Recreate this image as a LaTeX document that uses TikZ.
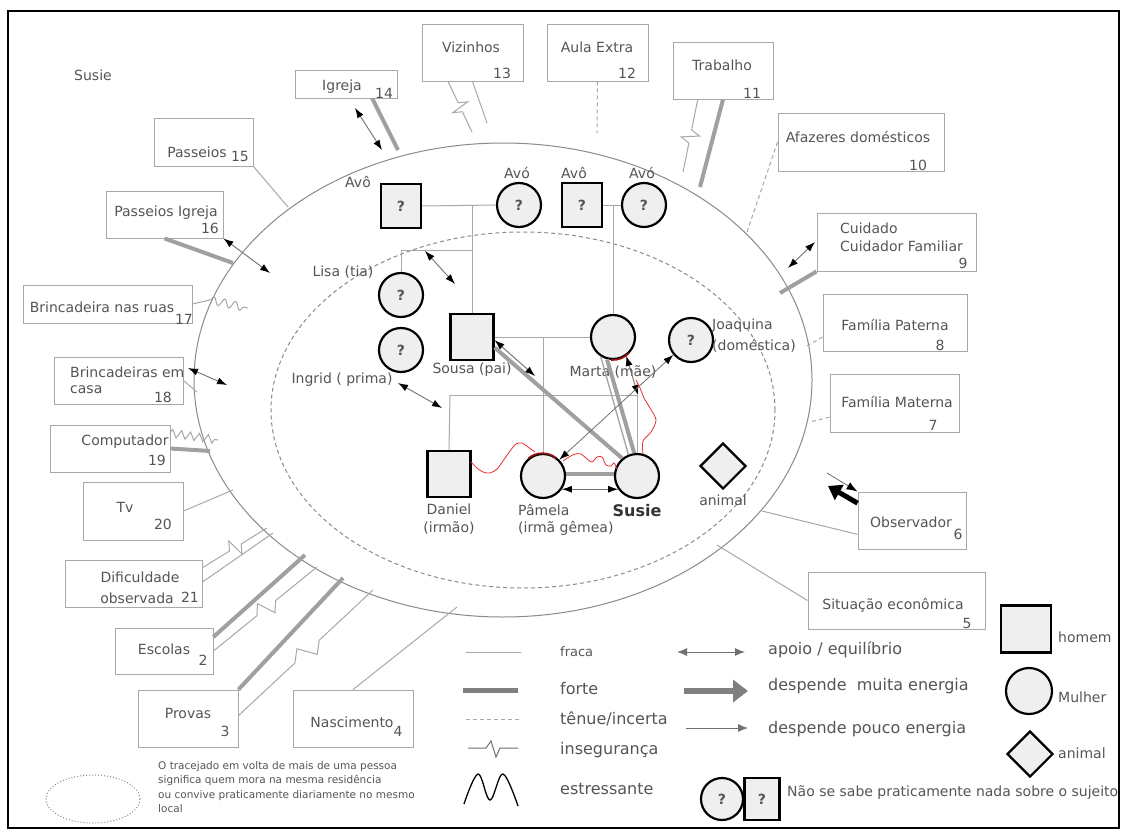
\documentclass[tikz,border=0pt]{standalone}
\usepackage{fontspec}
\setmainfont{DejaVu Sans}
\usetikzlibrary{arrows.meta,calc,fit,shapes.geometric,decorations.pathmorphing}
\definecolor{txtg}{HTML}{555555}
\definecolor{lineg}{HTML}{A8A8A8}
\definecolor{thickg}{HTML}{A0A0A0}
\definecolor{boxg}{HTML}{A8A8A8}
\definecolor{ellg}{HTML}{8A8A8A}
\definecolor{nfill}{HTML}{EFEFEF}
\definecolor{arrg}{HTML}{707070}
\definecolor{stressred}{HTML}{E83030}
\definecolor{darkred}{HTML}{A01010}
\tikzset{
 box/.style={draw=boxg, line width=0.9pt, fill=white, inner sep=0pt},
 tx/.style={text=txtg, inner sep=0pt, font=\fontsize{14}{16}\selectfont},
 txl/.style={tx, anchor=west},
 person/.style={draw=black, line width=2.2pt, fill=nfill, inner sep=0pt, text=txtg, font=\fontsize{14}{16}\selectfont\bfseries},
 man/.style={person, rectangle, minimum width=40pt, minimum height=44pt},
 woman/.style={person, circle, minimum size=44pt},
 pet/.style={person, diamond, aspect=1, minimum size=46pt},
 weak/.style={draw=lineg, line width=1pt},
 strong/.style={draw=thickg, line width=4pt},
 tenue/.style={draw=lineg, line width=1pt, dash pattern=on 4pt off 3pt},
 apoio/.style={draw=arrg, line width=0.9pt, arrows={Latex[length=10pt,width=7pt,color=black]-Latex[length=10pt,width=7pt,color=black]}},
 pouco/.style={draw=arrg, line width=0.8pt, arrows={-Latex[length=9pt,width=7pt,color=black]}},
 insec/.style={draw=lineg, line width=1pt, to path={-- ($(\tikztostart)!0.42!(\tikztotarget)$) -- ($(\tikztostart)!0.48!(\tikztotarget)!9pt!90:(\tikztotarget)$) -- ($(\tikztostart)!0.54!(\tikztotarget)!-9pt!90:(\tikztotarget)$) -- ($(\tikztostart)!0.6!(\tikztotarget)$) -- (\tikztotarget)}},
 stress/.style={draw=lineg, line width=1pt, decorate, decoration={snake, amplitude=4pt, segment length=11pt}},
 redline/.style={draw=stressred, line width=0.8pt},
 redarc/.style={draw=darkred, line width=1.6pt},
}
\begin{document}
\begin{tikzpicture}[x=1pt,y=-1pt]
\useasboundingbox (0,0) rectangle (1122,830);
\fill[white] (0,0) rectangle (1122,830);
\draw[black,line width=1.6pt] (8,11) rectangle (1119,828);

% ---------- ellipses
\draw[ellg, line width=1pt] (503,380) ellipse [x radius=309pt, y radius=237pt];
\draw[ellg, line width=1pt, dash pattern=on 4pt off 3pt] (523,410) ellipse [x radius=252pt, y radius=178pt];

\node[tx, font=\fontsize{14}{16}\selectfont] (title) at (93,75) {Susie};

% ---------- outer boxes
\node[box, fit={(295,70)(397,98)}] (b14) {};
\node[box, fit={(154,118)(253,166)}] (b15) {};
\node[box, fit={(106,191)(223,238)}] (b16) {};
\node[box, fit={(23,285)(192,323)}] (b17) {};
\node[box, fit={(54,357)(183,404)}] (b18) {};
\node[box, fit={(50,425)(170,472)}] (b19) {};
\node[box, fit={(83,482)(183,540)}] (b20) {};
\node[box, fit={(65,560)(202,607)}] (b21) {};
\node[box, fit={(115,628)(213,674)}] (b2) {};
\node[box, fit={(138,690)(238,747)}] (b3) {};
\node[box, fit={(293,690)(413,747)}] (b4) {};
\node[box, fit={(808,572)(985,629)}] (b5) {};
\node[box, fit={(858,492)(966,549)}] (b6) {};
\node[box, fit={(830,374)(959,432)}] (b7) {};
\node[box, fit={(823,294)(967,351)}] (b8) {};
\node[box, fit={(817,213)(976,271)}] (b9) {};
\node[box, fit={(778,113)(944,171)}] (b10) {};
\node[box, fit={(673,42)(773,99)}] (b11) {};
\node[box, fit={(547,24)(648,81)}] (b12) {};
\node[box, fit={(422,24)(523,81)}] (b13) {};

\node[tx] at (342,87) {Igreja};          \node[tx] at (384,93) {14};
\node[tx] at (197,152) {Passeios};        \node[tx] at (240,156) {15};
\node[tx] at (166,213) {Passeios Igreja}; \node[tx] at (210,228) {16};
\node[tx] at (102,307) {Brincadeira nas ruas}; \node[tx] at (184,319) {17};
\node[txl] at (70,372) {Brincadeiras em}; \node[txl] at (70,390) {casa}; \node[tx] at (163,397) {18};
\node[tx] at (125,442) {Computador};      \node[tx] at (157,460) {19};
\node[tx] at (125,507) {Tv};              \node[tx] at (163,524) {20};
\node[tx] at (140,577) {Dificuldade};     \node[tx] at (137,598) {observada}; \node[tx] at (190,597) {21};
\node[tx] at (164,649) {Escolas};         \node[tx] at (203,660) {2};
\node[tx] at (188,713) {Provas};          \node[tx] at (225,731) {3};
\node[tx] at (352,722) {Nascimento};      \node[tx] at (398,731) {4};
\node[tx] at (893,605) {Situação econômica}; \node[tx] at (967,623) {5};
\node[tx] at (911,522) {Observador};      \node[tx] at (958,534) {6};
\node[tx] at (897,402) {Família Materna}; \node[tx] at (933,425) {7};
\node[tx] at (895,325) {Família Paterna}; \node[tx] at (940,345) {8};
\node[txl] at (840,228) {Cuidado}; \node[txl] at (840,246) {Cuidador Familiar}; \node[tx] at (963,263) {9};
\node[tx] at (858,137) {Afazeres domésticos}; \node[tx] at (918,165) {10};
\node[tx] at (722,65) {Trabalho};        \node[tx] at (752,93) {11};
\node[tx] at (597,47) {Aula Extra};      \node[tx] at (627,73) {12};
\node[tx] at (471,47) {Vizinhos};        \node[tx] at (502,73) {13};

% ---------- coordinates at the ellipse / free ends
\coordinate (e14) at (398,150); \coordinate (a14a) at (355,108); \coordinate (a14b) at (382,150);
\coordinate (e15) at (288,207);
\coordinate (e16) at (233,263); \coordinate (a16b) at (270,273);
\coordinate (e17) at (210,300); \coordinate (w17) at (248,308);
\coordinate (a18a) at (188,368); \coordinate (a18b) at (227,385); \coordinate (e18) at (197,392);
\coordinate (e19) at (210,451); \coordinate (w19a) at (170,433); \coordinate (w19) at (218,440);
\coordinate (e20) at (233,490);
\coordinate (i21) at ($(b21.north east)!.17!(b21.south east)$);
\coordinate (e21a) at (267,528); \coordinate (e21b) at (273,533);
\coordinate (i2) at ($(b2.north east)!.5!(b2.south east)$);
\coordinate (e2a) at (305,555); \coordinate (e2b) at (317,567);
\coordinate (i3) at ($(b3.north east)!.45!(b3.south east)$);
\coordinate (e3a) at (343,578); \coordinate (e3b) at (373,590);
\coordinate (e4) at (457,607);
\coordinate (e5) at (717,545);
\coordinate (e6) at (762,511); \coordinate (a6) at (828,486); \coordinate (s6) at (827,473);
\coordinate (o6) at ($(b6.north west)!.2!(b6.south west)$);
\coordinate (e7) at (810,422);
\coordinate (e8) at (805,347);
\coordinate (e9) at (780,293); \coordinate (a9a) at (815,242); \coordinate (a9b) at (788,268);
\coordinate (e10) at (747,232);
\coordinate (i11) at ($(b11.south west)!.25!(b11.south east)$);
\coordinate (e11a) at (700,187); \coordinate (e11b) at (683,172);
\coordinate (e12) at (597,133);
\coordinate (i13) at ($(b13.south west)!.26!(b13.south east)$);
\coordinate (e13a) at (487,123); \coordinate (e13b) at (472,132);

% ---------- outer connectors
\draw[strong] ($(b14.south west)!.755!(b14.south east)$) -- (e14);
\draw[apoio] (a14a) -- (a14b);
\draw[weak] (b15.south east) -- (e15);
\draw[strong] (b16.south) -- (e16);
\draw[apoio] (b16.south east) -- (a16b);
\draw[weak] (b17.east) -- (e17);
\draw[stress] (e17) -- (w17);
\draw[apoio] (a18a) -- (a18b);
\draw[weak] (b18.east) -- (e18);
\draw[strong] (b19.east) -- (e19);
\draw[draw=lineg, line width=1pt, decorate, decoration={zigzag, amplitude=4pt, segment length=9pt}] (w19a) -- (w19);
\draw[weak] (b20.east) -- (e20);
\draw[insec] (i21) to (e21a);
\draw[weak] ($(b21.north east)!.47!(b21.south east)$) -- (e21b);
\draw[strong] ($(b2.north east)!.2!(b2.south east)$) -- (e2a);
\draw[insec] (i2) to (e2b);
\draw[strong] (b3.north east) -- (e3a);
\draw[insec] (i3) to (e3b);
\draw[weak] (b4.north) -- (e4);
\draw[weak] (b5.west) -- (e5);
\draw[weak] ($(b6.north west)!.74!(b6.south west)$) -- (e6);
\draw[black, line width=5pt, -{Triangle[length=13pt,width=17pt]}] (o6) -- (a6);
\draw[draw=arrg, line width=0.8pt, -{Latex[length=11pt,width=8pt,color=black]}] (s6) -- (b6.north west);
\draw[tenue] ($(b7.north west)!.74!(b7.south west)$) -- (e7);
\draw[tenue] ($(b8.north west)!.75!(b8.south west)$) -- (e8);
\draw[strong] (b9.south west) -- (e9);
\draw[apoio] (a9a) -- (a9b);
\draw[tenue] (b10.west) -- (e10);
\draw[strong] (b11.south) -- (e11a);
\draw[insec] (i11) to (e11b);
\draw[tenue] (b12.south) -- (e12);
\draw[weak] (b13.south) -- (e13a);
\draw[insec] (i13) to (e13b);

% ---------- family nodes
\node[man] (gp1) at (401,206) {?};
\node[woman] (gm1) at (519,205) {?};
\node[man] (gp2) at (582,205) {?};
\node[woman] (gm2) at (644,205) {?};
\node[woman] (lisa) at (401,295) {?};
\node[woman] (ingrid) at (401,350) {?};
\node[man, minimum width=43pt, minimum height=46pt] (sousa) at (472,337) {};
\node[woman] (marta) at (613,337) {};
\node[woman] (joaq) at (691,340) {?};
\node[man, minimum width=43pt, minimum height=46pt] (daniel) at (449,474) {};
\node[woman] (pamela) at (543,476) {};
\node[woman] (susie) at (637,476) {};
\node[pet] (animal) at (723,466) {};

\node[tx] at (358,182) {Avô};
\node[tx] at (517,173) {Avó};
\node[tx] at (574,173) {Avô};
\node[tx] at (642,173) {Avó};
\node[tx] at (343,272) {Lisa (tia)};
\node[tx] at (342,380) {Ingrid ( prima)};
\node[tx] at (472,370) {Sousa (pai)};
\node[tx] at (613,372) {Marta (mãe)};
\node[txl] at (712,326) {Joaquina};
\node[txl] at (712,346) {(doméstica)};
\node[tx] at (449,509) {Daniel};
\node[tx] at (449,528) {(irmão)};
\node[txl] at (518,510) {Pâmela};
\node[txl] at (518,528) {(irmã gêmea)};
\node[tx, text=black!80, font=\fontsize{16}{18}\selectfont\bfseries] at (637,511) {Susie};
\node[tx] at (723,500) {animal};

% ---------- family structure lines
\coordinate (c1) at (472,206);
\coordinate (c2) at (472,250);
\coordinate (c3) at (401,250);
\coordinate (c4) at (613,205);
\coordinate (c5) at (543,337);
\coordinate (c6) at (450,395);
\coordinate (c7) at (637,395);
\draw[weak] (gp1.east) -- (gm1.west);
\draw[weak] (c1) -- (sousa.north);
\draw[weak] (c3) -- (c2);
\draw[weak] (c3) -- (lisa.north);
\draw[weak] (gp2.east) -- (gm2.west);
\draw[weak] (c4) -- (marta.north);
\draw[weak] (sousa.east) -- (marta.west);
\draw[weak] (c5) -- (pamela.north);
\draw[weak] (c6) -- (c7);
\draw[weak] (c6) -- (daniel.north);
\draw[weak] (c7) -- (susie.north);

% ---------- relations
\coordinate (la) at (425,251); \coordinate (lb) at (455,284);
\coordinate (ia) at (398,383); \coordinate (ib) at (442,408);
\coordinate (s1) at (535,376);
\coordinate (m1) at (638,395);
\draw[apoio] (la) -- (lb);
\draw[apoio] (ia) -- (ib);
\draw[strong] (sousa.-25) -- (susie.130);
\draw[apoio] (sousa.-8) -- (s1);
\draw[strong] (marta.-105) -- (susie.97);
\draw[weak, line width=1.4pt] (marta.-122) -- (susie.112);
\draw[apoio] (marta.-55) -- (m1);
\draw[pouco, arrows={Latex[length=10pt,width=7pt,color=black]-Latex[length=10pt,width=7pt,color=black]}] (pamela.45) -- (joaq.-140);
\draw[strong] (pamela.5) -- (susie.175);
\draw[apoio] (pamela.-35) -- (susie.-145);

% stress (red)
\draw[redline] plot[smooth] coordinates {(471,462) (477,468) (483,472) (490,473) (497,469) (503,461) (510,451) (516,444) (522,443) (528,447) (535,452)};
\draw[redarc] (pamela.130) arc[start angle=130, end angle=50, radius=22pt];
\draw[redline] plot[smooth] coordinates {(563,461) (569,457) (575,454) (581,454) (587,459) (592,462) (597,457) (602,457) (606,465) (611,466) (614,463) (617,469)};
\draw[redline] plot[smooth] coordinates {(643,454) (643,441) (651,432) (656,420) (650,408) (644,398) (640,388) (636,380)};
\draw[redarc] (marta.-95) arc[start angle=-95, end angle=-42, radius=22pt];

% ---------- legend
\draw[weak] (466,652) -- (521,652);
\draw[draw=thickg!80!black, line width=5pt] (463,690) -- (518,690);
\draw[tenue] (466,719) -- (521,719);
\draw[draw=arrg, line width=1pt] (468,748) -- (486,748) -- (491,741) -- (496,757) -- (500,748) -- (518,748);
\draw[black, line width=1.3pt] plot[smooth, tension=0.6] coordinates {(464,804) (478,774) (490,800) (503,774) (518,806)};
\node[txl, font=\fontsize{13}{15}\selectfont] at (560,652) {fraca};
\node[txl, font=\fontsize{16}{18}\selectfont] at (560,689) {forte};
\node[txl, font=\fontsize{16}{18}\selectfont] at (560,719) {tênue/incerta};
\node[txl, font=\fontsize{16}{18}\selectfont] at (560,750) {insegurança};
\node[txl, font=\fontsize{16}{18}\selectfont] at (560,789) {estressante};

\draw[draw=arrg, line width=1pt, arrows={Latex[length=10pt,width=8pt,color=arrg]-Latex[length=10pt,width=8pt,color=arrg]}] (677,652) -- (745,652);
\draw[draw=thickg!80!black, line width=6pt, -{Triangle[length=15pt,width=22pt]}] (684,691) -- (748,691);
\draw[draw=arrg, line width=1pt, -{Latex[length=10pt,width=8pt,color=arrg]}] (686,728) -- (748,728);
\node[txl, font=\fontsize{16}{18}\selectfont] at (768,650) {apoio / equilíbrio};
\node[txl, font=\fontsize{16}{18}\selectfont] at (768,686) {despende\ \ muita energia};
\node[txl, font=\fontsize{16}{18}\selectfont] at (768,729) {despende pouco energia};

\node[man, minimum width=50pt, minimum height=47pt] (lgm) at (1026,629) {};
\node[woman, minimum size=46pt] (lgw) at (1029,691) {};
\node[pet] (lgp) at (1030,754) {};
\node[txl] at (1058,637) {homem};
\node[txl] at (1058,697) {Mulher};
\node[txl] at (1058,753) {animal};

\node[woman, minimum size=42pt] (lgq1) at (722,799) {?};
\node[man, minimum width=35pt, minimum height=42pt] (lgq2) at (762,799) {?};
\node[txl] at (787,793) {Não se sabe praticamente nada sobre o sujeito};

\draw[ellg, line width=1pt, dotted] (93,799) ellipse [x radius=47pt, y radius=24pt];
\node[tx, anchor=north west, align=left, font=\fontsize{10.5}{14.5}\selectfont] (note) at (158,761) {O tracejado em volta de mais de uma pessoa\\significa quem mora na mesma residência\\ou convive praticamente diariamente no mesmo\\local};
\end{tikzpicture}
\end{document}
